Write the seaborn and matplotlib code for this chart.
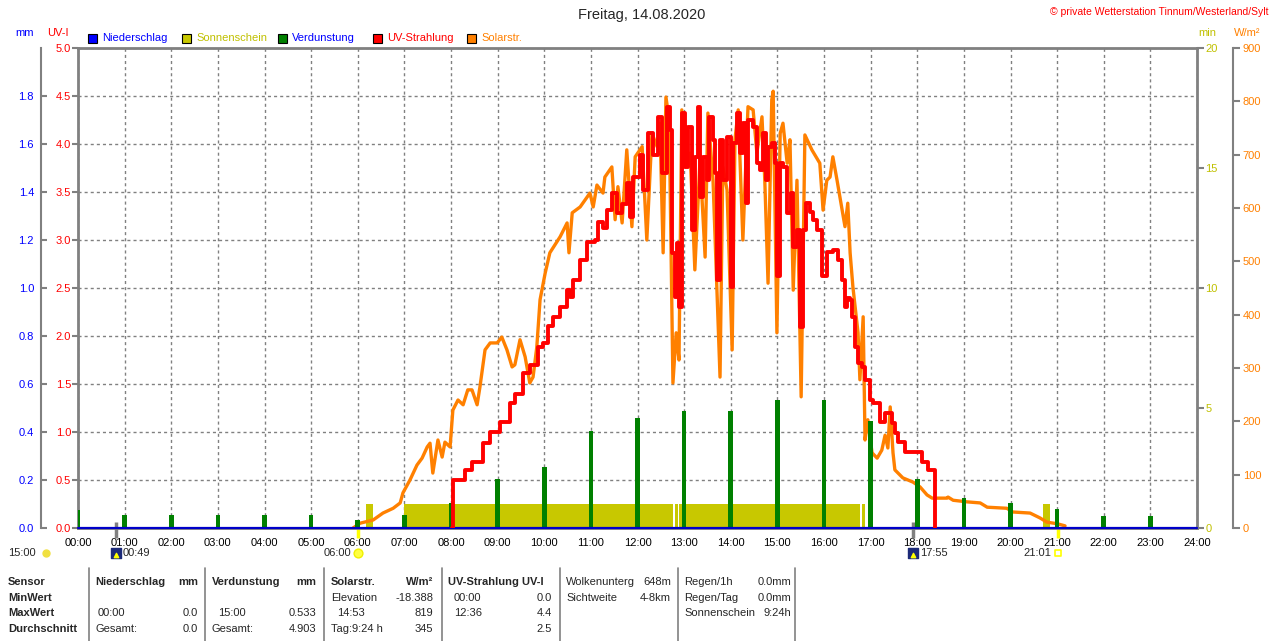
import matplotlib
matplotlib.use("Agg")
import matplotlib.pyplot as plt
from matplotlib.patches import Rectangle
from matplotlib.lines import Line2D
import numpy as np
import seaborn as sns

# ---- values ----
# UV-Strahlung (UV-I), time in decimal hours
uv_time = [8.03, 8.04, 8.26, 8.30, 8.45, 8.58, 8.69, 8.84, 8.99, 9.05,
           9.27, 9.37, 9.48, 9.54, 9.69, 9.87, 9.97, 10.08, 10.19, 10.34,
           10.49, 10.55, 10.62, 10.77, 10.92, 11.09, 11.15, 11.26, 11.35, 11.45,
           11.56, 11.67, 11.77, 11.84, 11.90, 12.05, 12.12, 12.22, 12.33, 12.44,
           12.53, 12.63, 12.70, 12.74, 12.80, 12.85, 12.89, 12.95, 13.02, 13.08,
           13.17, 13.23, 13.30, 13.34, 13.40, 13.49, 13.53, 13.62, 13.66, 13.71,
           13.77, 13.83, 13.92, 14.01, 14.05, 14.13, 14.20, 14.26, 14.33, 14.37,
           14.48, 14.56, 14.63, 14.69, 14.76, 14.80, 14.88, 14.95, 14.99, 15.06,
           15.12, 15.21, 15.29, 15.34, 15.42, 15.49, 15.55, 15.61, 15.70, 15.76,
           15.85, 15.94, 15.96, 16.06, 16.19, 16.30, 16.39, 16.45, 16.49, 16.56,
           16.60, 16.66, 16.73, 16.81, 16.88, 16.99, 17.05, 17.20, 17.31, 17.46,
           17.52, 17.59, 17.74, 18.00, 18.10, 18.23, 18.34, 18.38]
uv_index = [0.0, 0.5, 0.5, 0.6, 0.69, 0.69, 0.89, 1.0, 1.0, 1.1,
            1.3, 1.4, 1.4, 1.61, 1.7, 1.89, 1.93, 2.1, 2.2, 2.3,
            2.48, 2.41, 2.58, 2.79, 2.98, 3.0, 3.19, 3.12, 3.31, 3.49,
            3.28, 3.38, 3.59, 3.24, 3.66, 3.89, 3.52, 4.11, 3.89, 4.28,
            3.70, 4.39, 4.15, 2.86, 2.41, 2.97, 2.30, 4.32, 3.76, 4.18,
            3.10, 3.86, 4.39, 3.45, 3.86, 3.62, 4.28, 4.04, 3.70, 2.58,
            4.04, 3.62, 4.07, 2.51, 4.01, 4.32, 3.91, 4.22, 3.39, 4.25,
            4.18, 3.80, 3.73, 4.11, 3.62, 3.97, 4.01, 3.80, 2.62, 3.80,
            3.76, 3.28, 3.49, 2.93, 3.10, 2.09, 3.10, 3.39, 3.29, 3.21,
            3.10, 3.10, 2.62, 2.88, 2.90, 2.79, 2.58, 2.30, 2.40, 2.37,
            2.20, 1.89, 1.72, 1.68, 1.54, 1.33, 1.30, 1.1, 1.2, 1.09,
            0.99, 0.90, 0.79, 0.79, 0.69, 0.60, 0.60, 0.0]

# Solarstrahlung (W/m2)
solar_time = [5.90, 6.05, 6.33, 6.54, 6.76, 6.91, 6.97, 7.12, 7.27, 7.38,
              7.49, 7.55, 7.61, 7.72, 7.81, 7.87, 7.98, 8.04, 8.15, 8.26,
              8.36, 8.45, 8.56, 8.62, 8.73, 8.84, 8.99, 9.09, 9.20, 9.31,
              9.37, 9.48, 9.59, 9.69, 9.76, 9.84, 9.91, 10.02, 10.12, 10.34,
              10.49, 10.53, 10.60, 10.77, 10.98, 11.05, 11.13, 11.26, 11.30, 11.45,
              11.52, 11.58, 11.67, 11.77, 11.88, 11.95, 12.10, 12.20, 12.31, 12.42,
              12.48, 12.55, 12.61, 12.68, 12.76, 12.83, 12.89, 12.95, 13.02, 13.13,
              13.23, 13.34, 13.45, 13.51, 13.62, 13.77, 13.83, 13.92, 14.03, 14.09,
              14.16, 14.26, 14.37, 14.48, 14.56, 14.67, 14.73, 14.80, 14.88, 14.91,
              14.99, 15.06, 15.12, 15.21, 15.27, 15.34, 15.42, 15.51, 15.59, 15.74,
              15.91, 15.98, 16.06, 16.13, 16.19, 16.28, 16.39, 16.45, 16.51, 16.56,
              16.62, 16.73, 16.77, 16.84, 16.88, 16.94, 17.03, 17.14, 17.24, 17.31,
              17.37, 17.42, 17.48, 17.52, 17.69, 17.91, 18.06, 18.21, 18.32, 18.64,
              18.66, 18.77, 19.07, 19.35, 19.50, 19.92, 20.05, 20.42, 20.63, 20.78,
              21.00, 21.17]
solar_wm2 = [0, 9, 15, 28, 37, 47, 66, 90, 118, 131,
             152, 159, 103, 165, 133, 161, 152, 221, 240, 231,
             259, 259, 231, 264, 334, 347, 347, 358, 334, 302,
             306, 353, 321, 272, 283, 339, 428, 478, 516, 546,
             572, 516, 591, 602, 628, 602, 643, 628, 658, 677,
             578, 640, 572, 709, 565, 696, 715, 540, 740, 715,
             759, 516, 808, 765, 272, 366, 315, 784, 677, 703,
             484, 690, 508, 778, 652, 283, 677, 634, 334, 728,
             784, 540, 790, 784, 703, 771, 652, 459, 803, 819,
             366, 740, 759, 684, 728, 446, 652, 246, 737, 709,
             684, 596, 652, 658, 696, 652, 596, 565, 609, 516,
             452, 366, 278, 396, 165, 203, 141, 131, 146, 174,
             150, 227, 141, 109, 94, 86, 77, 62, 56, 56,
             58, 52, 49, 47, 39, 37, 30, 28, 19, 11,
             8, 4]

# Verdunstung per hour (mm)
evap_hour = list(range(24))
evap_mm = [0.075, 0.054, 0.054, 0.054, 0.054, 0.054, 0.033, 0.054, 0.104, 0.204,
           0.254, 0.404, 0.458, 0.487, 0.487, 0.533, 0.533, 0.446, 0.204, 0.125,
           0.104, 0.079, 0.050, 0.050]

# Sonnenschein periods (min per minute)
sun_start = [6.18, 7.00, 12.80, 12.89, 16.81, 20.70]
sun_end = [6.33, 12.77, 12.87, 16.77, 16.88, 20.85]
sun_min = [1, 1, 1, 1, 1, 1]

# Niederschlag (mm)
rain_time = [0, 24]
rain_mm = [0.0, 0.0]

hour_labels = [f"{h:02d}:00" for h in range(25)]

# moon / sun rise and set
event_time = [49 / 60, 6.0, 17 + 55 / 60, 21 + 1 / 60]
event_label = ["00:49", "06:00", "17:55", "21:01"]
event_kind = ["moon", "sun", "moon", "sunset"]

# ---- figure ----
sns.set_style("white")
plt.rcParams['font.family'] = ['Liberation Sans', 'DejaVu Sans']
plt.rcParams['font.size'] = 8

W, H = 1280, 641
L, R, T, B = 78, 1197, 48, 528
GRAY = '#808080'
SUNC = '#C8C800'

fig = plt.figure(figsize=(W / 100, H / 100), dpi=100)
fig.patch.set_facecolor('white')
ax = fig.add_axes([L / W, 1 - B / H, (R - L) / W, (B - T) / H])
ax.set_zorder(0)
ax.patch.set_facecolor('white')

ax.set_xlim(0, 24)
ax.set_ylim(0, 5)
ax.set_xticks(range(25))
ax.set_xticklabels(hour_labels)
ax.set_yticks(np.arange(0, 5.01, 0.5))
ax.set_yticklabels([f"{v:.1f}" for v in np.arange(0, 5.01, 0.5)])
ax.tick_params(axis='x', length=4, width=1.5, color=GRAY, pad=3, labelsize=8, labelcolor='black')
ax.tick_params(axis='y', length=4, width=1.5, color=GRAY, pad=1, labelsize=8, labelcolor='red')
ax.grid(True, color=GRAY, linestyle=(0, (2.2, 2.2)), linewidth=1.0)
for side in ['top', 'left', 'right', 'bottom']:
    ax.spines[side].set_color(GRAY)
    ax.spines[side].set_linewidth(2.0)

# Sonnenschein (min axis, right)
ax_sun = ax.twinx()
ax_sun.set_zorder(1)
ax_sun.set_ylim(0, 20)
ax_sun.set_yticks([0, 5, 10, 15, 20])
ax_sun.tick_params(axis='y', length=5, width=1.5, color=GRAY, pad=1, labelsize=8, labelcolor='#C0C000')
for side in ax_sun.spines:
    ax_sun.spines[side].set_visible(False)
ax_sun.bar(sun_start, sun_min, width=np.array(sun_end) - np.array(sun_start),
           align='edge', color=SUNC, linewidth=0)

# Solarstrahlung (W/m2 axis, offset right)
ax_w = ax.twinx()
ax_w.set_zorder(2)
ax_w.set_ylim(0, 900)
ax_w.set_yticks(range(0, 901, 100))
for side in ax_w.spines:
    ax_w.spines[side].set_visible(False)
ax_w.spines['right'].set_visible(True)
ax_w.spines['right'].set_position(('axes', (1233 - L) / (R - L)))
ax_w.spines['right'].set_color(GRAY)
ax_w.spines['right'].set_linewidth(1.5)
ax_w.tick_params(axis='y', length=5, width=1.5, color=GRAY, pad=2, labelsize=8, labelcolor='#FF8000')
sns.lineplot(x=solar_time, y=solar_wm2, ax=ax_w, color='#FF8000', linewidth=2.4,
             estimator=None, sort=False)

# Verdunstung + Niederschlag (mm axis, offset left)
ax_mm = ax.twinx()
ax_mm.set_zorder(3)
ax_mm.set_ylim(0, 2)
ax_mm.yaxis.set_ticks_position('left')
ax_mm.set_yticks(np.arange(0, 1.81, 0.2))
ax_mm.set_yticklabels([f"{v:.1f}" for v in np.arange(0, 1.81, 0.2)])
for side in ax_mm.spines:
    ax_mm.spines[side].set_visible(False)
ax_mm.spines['left'].set_visible(True)
ax_mm.spines['left'].set_position(('axes', (41 - L) / (R - L)))
ax_mm.spines['left'].set_color(GRAY)
ax_mm.spines['left'].set_linewidth(1.5)
ax_mm.tick_params(axis='y', direction='in', length=4, width=1.5, color=GRAY, pad=5,
                  labelsize=8, labelcolor='#0000FF')
ax_mm.bar(evap_hour, evap_mm, width=0.1, color='#008000', linewidth=0)
sns.lineplot(x=rain_time, y=rain_mm, ax=ax_mm, color='#0000C8', linewidth=1.6,
             estimator=None, sort=False, clip_on=False)

# UV-Strahlung on top
ax_uv = ax.twinx()
ax_uv.set_zorder(4)
ax_uv.set_ylim(0, 5)
ax_uv.axis('off')
sns.lineplot(x=uv_time, y=uv_index, ax=ax_uv, color='#FF0000', linewidth=2.8,
             drawstyle='steps-post', estimator=None, sort=False)

for a in [ax, ax_sun, ax_w, ax_mm, ax_uv]:
    a.set_xlim(0, 24)
    a.set_xlabel('')
    a.set_ylabel('')

# rise / set markers below the time axis
xtr = ax.get_xaxis_transform()
for t, lab, kind in zip(event_time, event_label, event_kind):
    tick_col = GRAY if kind == 'moon' else '#FFFF00'
    ax.vlines(t, -0.02, 0.012 if kind == 'moon' else 0.0, transform=xtr,
              colors=tick_col, linewidth=2.5, clip_on=False)
    yf = (B - 553) / (B - T)
    if kind == 'moon':
        ax.scatter([t], [yf], transform=xtr, marker='s', s=60, color='#1C2A78',
                   clip_on=False, zorder=5)
        ax.scatter([t], [yf - 0.004], transform=xtr, marker='^', s=10, color='#FFFF00',
                   clip_on=False, zorder=6)
        ax.annotate(lab, (t, yf), xycoords=xtr, xytext=(5, 0), textcoords='offset points',
                    ha='left', va='center', fontsize=8, annotation_clip=False)
    elif kind == 'sun':
        ax.scatter([t], [yf], transform=xtr, marker='o', s=40, color='#FFFF40',
                   edgecolor='#F0F000', clip_on=False, zorder=5)
        ax.annotate(lab, (t, yf), xycoords=xtr, xytext=(-4.5, 0), textcoords='offset points',
                    ha='right', va='center', fontsize=8, annotation_clip=False)
    else:
        ax.scatter([t], [yf], transform=xtr, marker='s', s=22, facecolor='white',
                   edgecolor='#FFFF00', linewidth=1.2, clip_on=False, zorder=5)
        ax.annotate(lab, (t, yf), xycoords=xtr, xytext=(-4.5, 0), textcoords='offset points',
                    ha='right', va='center', fontsize=8, annotation_clip=False)


def ftext(x, y, s, **kw):
    kw.setdefault('va', 'center')
    kw.setdefault('fontsize', 8)
    fig.text(x / W, 1 - y / H, s, **kw)


ftext(8, 553, "15:00")
fig.add_artist(Line2D([46 / W], [1 - 553 / H], marker='o', markersize=5, color='#F0E040',
                      transform=fig.transFigure))

# titles and axis units
ftext(642, 15, "Freitag, 14.08.2020", ha='center', fontsize=10.5)
ftext(1268, 12, "© private Wetterstation Tinnum/Westerland/Sylt", ha='right',
      fontsize=7.5, color='#FF0000')
ftext(15, 33, "mm", color='#0000FF')
ftext(47, 33, "UV-I", color='#FF0000')
ftext(1198, 33, "min", color='#C0C000')
ftext(1234, 33, "W/m²", color='#FF8000')

# legend
legend_items = [("Niederschlag", '#0000FF', '#0000FF', 88),
                ("Sonnenschein", SUNC, '#C0C000', 182),
                ("Verdunstung", '#008000', '#0000FF', 278),
                ("UV-Strahlung", '#FF0000', '#FF0000', 373),
                ("Solarstr.", '#FF8000', '#FF8000', 467)]
for name, boxc, txtc, x0 in legend_items:
    fig.patches.append(Rectangle((x0 / W, 1 - 43 / H), 9 / W, 9 / H, transform=fig.transFigure,
                                 facecolor=boxc, edgecolor='black', linewidth=0.8))
    ftext(x0 + 14, 38, name, color=txtc)

# statistics table
rows_y = [582, 598, 613, 629]
for x in [89, 205, 324, 442, 560, 678, 795]:
    fig.add_artist(Line2D([x / W, x / W], [1 - 568 / H, 0], color=GRAY, linewidth=1.2,
                          transform=fig.transFigure))

bold = dict(fontweight='bold')
ftext(8, rows_y[0], "Sensor", **bold)
ftext(8, rows_y[1], "MinWert", **bold)
ftext(8, rows_y[2], "MaxWert", **bold)
ftext(8, rows_y[3], "Durchschnitt", **bold)

ftext(95, rows_y[0], "Niederschlag", **bold)
ftext(198, rows_y[0], "mm", ha='right', **bold)
ftext(98, rows_y[2], "00:00")
ftext(198, rows_y[2], "0.0", ha='right')
ftext(95, rows_y[3], "Gesamt:")
ftext(198, rows_y[3], "0.0", ha='right')

ftext(212, rows_y[0], "Verdunstung", **bold)
ftext(316, rows_y[0], "mm", ha='right', **bold)
ftext(218, rows_y[2], "15:00")
ftext(316, rows_y[2], "0.533", ha='right')
ftext(212, rows_y[3], "Gesamt:")
ftext(316, rows_y[3], "4.903", ha='right')

ftext(331, rows_y[0], "Solarstr.", **bold)
ftext(433, rows_y[0], "W/m²", ha='right', **bold)
ftext(331, rows_y[1], "Elevation")
ftext(433, rows_y[1], "-18.388", ha='right')
ftext(337, rows_y[2], "14:53")
ftext(433, rows_y[2], "819", ha='right')
ftext(331, rows_y[3], "Tag:9:24 h")
ftext(433, rows_y[3], "345", ha='right')

ftext(448, rows_y[0], "UV-Strahlung UV-I", **bold)
ftext(454, rows_y[1], "00:00")
ftext(552, rows_y[1], "0.0", ha='right')
ftext(454, rows_y[2], "12:36")
ftext(552, rows_y[2], "4.4", ha='right')
ftext(552, rows_y[3], "2.5", ha='right')

ftext(566, rows_y[0], "Wolkenunterg")
ftext(671, rows_y[0], "648m", ha='right')
ftext(566, rows_y[1], "Sichtweite")
ftext(671, rows_y[1], "4-8km", ha='right')

ftext(684, rows_y[0], "Regen/1h")
ftext(791, rows_y[0], "0.0mm", ha='right')
ftext(684, rows_y[1], "Regen/Tag")
ftext(791, rows_y[1], "0.0mm", ha='right')
ftext(684, rows_y[2], "Sonnenschein")
ftext(791, rows_y[2], "9:24h", ha='right')

fig.savefig("out.png", dpi=100, facecolor='white')
